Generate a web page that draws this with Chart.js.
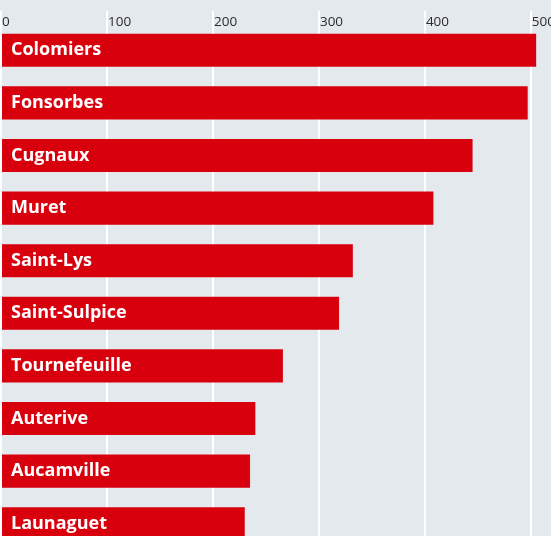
<!DOCTYPE html>
<html>
<head>
<meta charset="utf-8">
<script src="https://cdn.jsdelivr.net/npm/chart.js@4"></script>
<style>
  html, body { margin: 0; padding: 0; background: #e4e9ee; overflow: hidden; }
  #wrap { width: 551px; height: 551px; position: relative; }
</style>
</head>
<body>
<div id="wrap"><canvas id="graficoBarras"></canvas></div>
<script>
// donnees
var communes = ['Colomiers', 'Fonsorbes', 'Cugnaux', 'Muret', 'Saint-Lys', 'Saint-Sulpice', 'Tournefeuille', 'Auterive', 'Aucamville', 'Launaguet'];
var valeurs = [505, 497, 445, 408, 332, 319, 266, 240, 235, 230];
var graduations = [0, 100, 200, 300, 400, 500];

// noms des communes en blanc dans les barres
var etiquettesBarres = {
    id: 'etiquettesBarres',
    afterDatasetsDraw: function (chart) {
        var ctx = chart.ctx;
        var meta = chart.getDatasetMeta(0);
        ctx.save();
        ctx.fillStyle = '#ffffff';
        ctx.font = 'bold 18px "Open Sans"';
        ctx.textBaseline = 'middle';
        ctx.textAlign = 'left';
        meta.data.forEach(function (bar, i) {
            ctx.fillText(communes[i], bar.base + 9, bar.y);
        });
        ctx.restore();
    }
};

var chart = new Chart(document.getElementById('graficoBarras').getContext('2d'), {
    type: 'bar',
    data: {
        labels: communes,
        datasets: [{
            data: valeurs,
            backgroundColor: '#d9000d',
            borderWidth: 0,
            barPercentage: 0.63,
            categoryPercentage: 1
        }]
    },
    options: {
        indexAxis: 'y',
        responsive: true,
        maintainAspectRatio: false,
        animation: false,
        layout: { padding: { left: 1, right: 0, top: 0, bottom: 1 } },
        scales: {
            x: {
                position: 'top',
                min: 0,
                max: 519,
                border: { display: false },
                grid: {
                    color: '#ffffff',
                    lineWidth: 2,
                    drawTicks: true,
                    tickLength: 13,
                    tickColor: '#ffffff'
                },
                afterBuildTicks: function (scale) {
                    scale.ticks = graduations.map(function (v) { return { value: v }; });
                },
                afterFit: function (scale) {
                    scale.height = 24;
                },
                ticks: {
                    mirror: true,
                    align: 'start',
                    padding: -10,
                    maxRotation: 0,
                    color: '#2b2b2b',
                    font: { family: 'Open Sans', size: 13.5 },
                    labelOffset: 1
                }
            },
            y: {
                display: false
            }
        },
        plugins: {
            legend: { display: false },
            tooltip: { enabled: false }
        }
    },
    plugins: [etiquettesBarres]
});
</script>
</body>
</html>
